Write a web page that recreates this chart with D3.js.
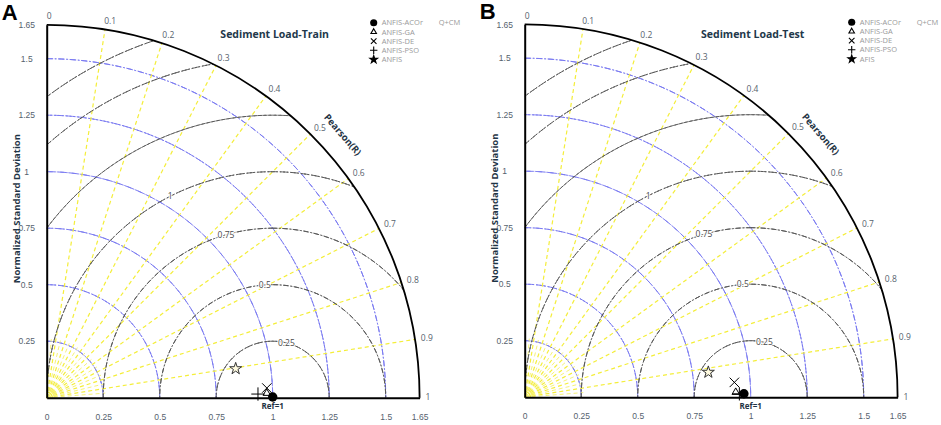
<!DOCTYPE html>
<html>
<head>
<meta charset="utf-8">
<script src="https://cdn.jsdelivr.net/npm/d3@7"></script>
<style>
  body { margin: 0; background: #fff; }
  svg { display: block; font-family: "Open Sans", "Noto Sans", sans-serif; }
  .tick text { fill: #56626e; font-size: 8.5px; }
</style>
</head>
<body>
<div id="main"></div>
<script>
//data
const trainModels = ['ANFIS-ACOr', 'ANFIS-GA', 'ANFIS-DE', 'ANFIS-PSO', 'ANFIS'];
const trainStd = [1.0, 0.974, 0.975, 0.935, 0.846];
const trainR = [0.998, 0.987, 0.972, 0.989, 0.903];

const testModels = ['ANFIS-ACOr', 'ANFIS-GA', 'ANFIS-DE', 'ANFIS-PSO', 'AFIS'];
const testStd = [0.97, 0.934, 0.93, 0.95, 0.82];
const testR = [0.99, 0.985, 0.955, 0.99, 0.914];

//ticks
const stdTicks = [0, 0.25, 0.5, 0.75, 1, 1.25, 1.5, 1.65];
const stdRings = [0.25, 0.5, 0.75, 1, 1.25, 1.5];
const rmsRings = [0.25, 0.5, 0.75, 1, 1.25, 1.5, 1.665];
const rmsLabels = ['0.25', '0.5', '0.75', '1'];
const corrTicks = [0, 0.1, 0.2, 0.3, 0.4, 0.5, 0.6, 0.7, 0.8, 0.9, 1];
const corrMinor = [0.05, 0.15, 0.25, 0.35, 0.45, 0.55, 0.65, 0.75, 0.85, 0.95];

//constants
const w = 941, h = 425;
const maxStd = 1.65;
const unit = 226;
const rmsLabelAngle = [76, 94, 106, 117]; // degrees, around the reference point

const svg = d3.select('#main')
  .append('svg')
  .attr('width', w)
  .attr('height', h);

const symbols = [
  {type: d3.symbolCircle, size: 70, leg: 40, fill: '#000', stroke: 'none'},
  {type: d3.symbolTriangle2 || d3.symbolTriangle, size: 40, leg: 22, fill: 'none', stroke: '#000'},
  {type: d3.symbolTimes || d3.symbolCross, size: 60, leg: 22, fill: 'none', stroke: '#000'},
  {type: d3.symbolPlus || d3.symbolCross, size: 60, leg: 20, fill: 'none', stroke: '#000'},
  {type: d3.symbolStar, size: 45, leg: 18, fill: '#fffbe0', stroke: '#333'}
];

function drawPanel (ox, oy, id, letter, title, models, stds, rs) {
  const g = svg.append('g')
    .attr('transform', `translate(${ox}, ${oy})`);

  const x = d3.scaleLinear().domain([0, maxStd]).range([0, maxStd * unit]);
  const y = d3.scaleLinear().domain([0, maxStd]).range([0, -maxStd * unit]);
  // linear angle: R = 0 at vertical, R = 1 at horizontal
  const ang = d3.scaleLinear().domain([0, 1]).range([Math.PI / 2, 0]);
  const pos = (s, r) => [x(s * Math.cos(ang(r))), y(s * Math.sin(ang(r)))];

  const quarter = d3.arc().startAngle(0).endAngle(Math.PI / 2);

  g.append('clipPath')
    .attr('id', 'clip-' + id)
    .append('path')
    .attr('d', quarter({innerRadius: 0, outerRadius: x(maxStd)}));

  // std rings (blue)
  g.selectAll('.std-ring')
    .data(stdRings)
    .enter()
    .append('path')
    .attr('class', 'std-ring')
    .attr('d', d => quarter({innerRadius: x(d), outerRadius: x(d)}))
    .attr('fill', 'none')
    .attr('stroke', '#7b7bf2')
    .attr('stroke-width', 1)
    .attr('stroke-dasharray', '6,2,1.5,2');

  // correlation rays (yellow)
  g.selectAll('.corr-line')
    .data(corrTicks.slice(1, -1))
    .enter()
    .append('line')
    .attr('class', 'corr-line')
    .attr('x1', 0).attr('y1', 0)
    .attr('x2', d => pos(maxStd, d)[0])
    .attr('y2', d => pos(maxStd, d)[1])
    .attr('stroke', '#f4ee3a')
    .attr('stroke-width', 1.2)
    .attr('stroke-dasharray', '4,3');

  g.selectAll('.corr-minor')
    .data(corrMinor)
    .enter()
    .append('line')
    .attr('class', 'corr-minor')
    .attr('x1', 0).attr('y1', 0)
    .attr('x2', d => pos(0.26, d)[0])
    .attr('y2', d => pos(0.26, d)[1])
    .attr('stroke', '#f6f27a')
    .attr('stroke-width', 1)
    .attr('stroke-dasharray', '4,3');

  g.append('path')
    .attr('d', quarter({innerRadius: x(0.025), outerRadius: x(0.025)}))
    .attr('fill', 'none')
    .attr('stroke', '#f4ee3a')
    .attr('stroke-width', 1.5);

  // RMS rings (grey), centred on reference
  const full = d3.arc().startAngle(0).endAngle(2 * Math.PI);
  g.append('g')
    .attr('clip-path', `url(#clip-${id})`)
    .append('g')
    .attr('transform', `translate(${x(1)}, 0)`)
    .selectAll('path')
    .data(rmsRings)
    .enter()
    .append('path')
    .attr('d', d => full({innerRadius: x(d), outerRadius: x(d)}))
    .attr('fill', 'none')
    .attr('stroke', '#5a5a5a')
    .attr('stroke-width', 1)
    .attr('stroke-dasharray', '5,2,1.5,2');

  g.selectAll('.rms-label')
    .data(rmsLabels)
    .enter()
    .append('text')
    .attr('class', 'rms-label')
    .attr('x', (d, i) => x(1) + x(+d) * Math.cos(rmsLabelAngle[i] * Math.PI / 180))
    .attr('y', (d, i) => -x(+d) * Math.sin(rmsLabelAngle[i] * Math.PI / 180))
    .attr('text-anchor', 'middle')
    .attr('dy', '0.35em')
    .style('font-size', '8.5px')
    .style('fill', '#4a4a4a')
    .style('paint-order', 'stroke')
    .style('stroke', '#fff')
    .style('stroke-width', 2)
    .text(d => d);

  // outer arc
  g.append('path')
    .attr('d', quarter({innerRadius: x(maxStd), outerRadius: x(maxStd)}))
    .attr('fill', 'none')
    .attr('stroke', '#000')
    .attr('stroke-width', 1.8);

  // axes
  const xAxis = g.append('g')
    .call(d3.axisBottom(x).tickValues(stdTicks).tickSize(0).tickPadding(16).tickSizeOuter(0)
      .tickFormat(d => d));
  xAxis.select('.domain').attr('stroke', '#000').attr('stroke-width', 2);

  const yAxis = g.append('g')
    .call(d3.axisLeft(y).tickValues(stdTicks.slice(1)).tickSize(0).tickSizeOuter(0)
      .tickFormat(d => d));
  yAxis.select('.domain').attr('stroke', '#000').attr('stroke-width', 2);
  yAxis.selectAll('text')
    .attr('x', -20)
    .style('text-anchor', 'middle');

  // correlation labels
  g.selectAll('.corr-label')
    .data(corrTicks)
    .enter()
    .append('text')
    .attr('class', 'corr-label')
    .attr('x', d => pos(1.685, d)[0])
    .attr('y', d => pos(1.685, d)[1])
    .attr('dx', d => d === 0 ? 0 : -2)
    .attr('dy', '0.3em')
    .style('font-size', '8.5px')
    .style('fill', '#56626e')
    .text(d => d);

  g.append('text')
    .attr('transform', `translate(296, -263) rotate(49)`)
    .attr('text-anchor', 'middle')
    .attr('dy', '0.35em')
    .style('font-size', '9.5px')
    .style('font-weight', 'bold')
    .style('fill', '#1f3445')
    .text('Pearson(R)');

  g.append('text')
    .attr('transform', `translate(-30, -189) rotate(-90)`)
    .attr('text-anchor', 'middle')
    .attr('dy', '0.35em')
    .style('font-size', '9.5px')
    .style('font-weight', 'bold')
    .style('fill', '#1f3445')
    .text('Normalized Standard Deviation');

  g.append('text')
    .attr('x', x(1))
    .attr('y', 11.5)
    .attr('text-anchor', 'middle')
    .style('font-size', '8px')
    .style('font-weight', 'bold')
    .style('fill', '#1f3445')
    .text('Ref=1');

  g.append('text')
    .attr('x', 228)
    .attr('y', -363)
    .attr('text-anchor', 'middle')
    .attr('dy', '0.35em')
    .style('font-size', '10.5px')
    .style('font-weight', 'bold')
    .style('fill', '#22384a')
    .text(title);

  g.append('text')
    .attr('x', -45)
    .attr('y', -378)
    .style('font-size', '22px')
    .style('font-weight', 'bold')
    .style('font-family', 'Liberation Sans, Arial, sans-serif')
    .style('fill', '#000')
    .text(letter);

  // points
  g.selectAll('.pt')
    .data(models)
    .enter()
    .append('path')
    .attr('class', 'pt')
    .attr('transform', (d, i) => `translate(${pos(stds[i], rs[i])})`)
    .attr('d', (d, i) => d3.symbol(symbols[i].type, symbols[i].size)())
    .attr('fill', (d, i) => symbols[i].fill)
    .attr('stroke', (d, i) => symbols[i].stroke)
    .attr('stroke-width', 1);

  // legend
  const leg = g.append('g')
    .attr('transform', 'translate(327, -375)');

  const rows = leg.selectAll('g')
    .data(models)
    .enter()
    .append('g')
    .attr('transform', (d, i) => `translate(0, ${i * 9.2})`);

  rows.append('path')
    .attr('d', (d, i) => d3.symbol(symbols[i].type, symbols[i].leg)())
    .attr('fill', (d, i) => i === 4 ? '#000' : symbols[i].fill)
    .attr('stroke', (d, i) => i === 4 ? '#000' : symbols[i].stroke)
    .attr('stroke-width', 1.1);

  rows.append('text')
    .attr('x', 8)
    .attr('dy', '0.35em')
    .style('font-size', '7.5px')
    .style('fill', '#9a9a9a')
    .text(d => d);

  leg.append('text')
    .attr('x', 65)
    .attr('dy', '0.35em')
    .style('font-size', '7.5px')
    .style('fill', '#9a9a9a')
    .text('Q+CM');
}

drawPanel(46.7, 397.7, 'a', 'A', 'Sediment Load-Train', trainModels, trainStd, trainR);
drawPanel(524.7, 397.2, 'b', 'B', 'Sediment Load-Test', testModels, testStd, testR);
</script>
</body>
</html>
